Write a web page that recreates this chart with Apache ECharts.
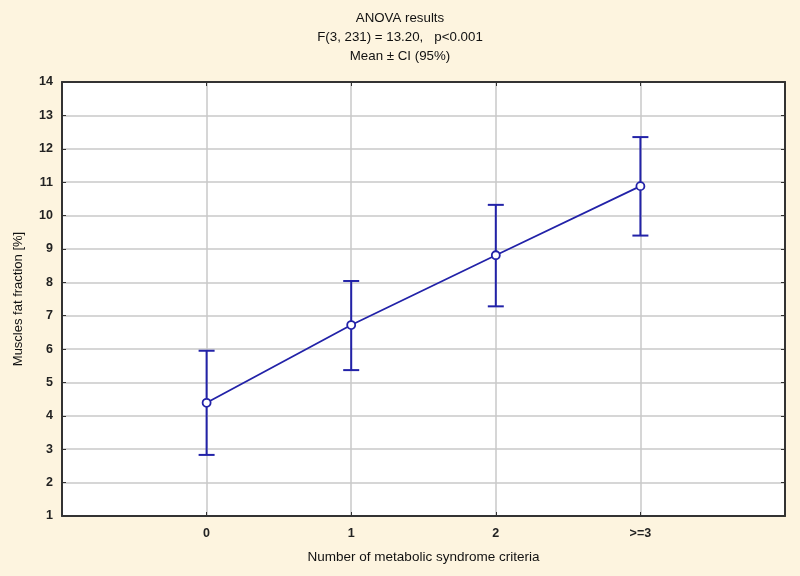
<!DOCTYPE html>
<html><head><meta charset="utf-8">
<script src="https://cdn.jsdelivr.net/npm/echarts@6/dist/echarts.min.js"></script>
<style>html,body{margin:0;padding:0;background:#FDF4DF;}#c{width:800px;height:576px;}</style>
</head><body><div id="c"></div>
<script>
const categories = ['0', '1', '2', '>=3'];
const means = [4.39, 6.72, 8.81, 10.88];
const lowerCI = [2.83, 5.37, 7.28, 9.40];
const upperCI = [5.95, 8.04, 10.32, 12.35];
const yTicks = [1,2,3,4,5,6,7,8,9,10,11,12,13,14];
const titleLines = ['ANOVA results', 'F(3, 231) = 13.20,   p<0.001', 'Mean \u00b1 CI (95%)'];

const FONT = '"Liberation Sans", Arial, sans-serif';
const blue = '#2222A8';
const chart = echarts.init(document.getElementById('c'));
const lineData = means.map((m, i) => [i, m]);
const errData = means.map((m, i) => [i, lowerCI[i], upperCI[i]]);

chart.setOption({
  backgroundColor: '#FDF4DF',
  animation: false,
  title: {
    text: titleLines.join('\n'), left: 'center', top: 4,
    textStyle: { fontFamily: FONT, fontSize: 13.3, fontWeight: 'normal', color: '#111', lineHeight: 19 }
  },
  grid: { left: 62, right: 15, top: 82, bottom: 60, show: true, backgroundColor: '#fff', borderColor: 'transparent' },
  xAxis: [{
    type: 'value', min: -1, max: 4, interval: 1,
    name: 'Number of metabolic syndrome criteria', nameLocation: 'middle', nameGap: 34,
    nameTextStyle: { fontFamily: FONT, fontSize: 13.5, color: '#111' },
    axisLine: { show: true, onZero: false, lineStyle: { color: '#333', width: 2 } },
    axisTick: { show: true, inside: true, length: 4, lineStyle: { color: '#333' } },
    axisLabel: { fontFamily: FONT, fontSize: 12.5, fontWeight: 'bold', color: '#222', margin: 11,
      formatter: v => (v >= 0 && v < categories.length) ? categories[v] : '' },
    splitLine: { show: true, lineStyle: { color: '#c8c8c8', width: 1.5 } }
  }, {
    type: 'value', min: -1, max: 4, interval: 1, position: 'top',
    axisLine: { show: true, onZero: false, lineStyle: { color: '#333', width: 2 } },
    axisTick: { show: true, inside: true, length: 4, lineStyle: { color: '#333' } },
    axisLabel: { show: false }, splitLine: { show: false }
  }],
  yAxis: [{
    type: 'value', min: 1, max: 14, interval: 1,
    name: 'Muscles fat fraction [%]', nameLocation: 'middle', nameGap: 37,
    nameTextStyle: { fontFamily: FONT, fontSize: 13, color: '#111' },
    axisLine: { show: true, onZero: false, lineStyle: { color: '#333', width: 2 } },
    axisTick: { show: true, inside: true, length: 4, lineStyle: { color: '#333' } },
    axisLabel: { fontFamily: FONT, fontSize: 12.5, fontWeight: 'bold', color: '#222', margin: 9,
      formatter: v => yTicks.includes(v) ? String(v) : '' },
    splitLine: { show: true, lineStyle: { color: '#c8c8c8', width: 1.5 } }
  }, {
    type: 'value', min: 1, max: 14, interval: 1, position: 'right',
    axisLine: { show: true, onZero: false, lineStyle: { color: '#333', width: 2 } },
    axisTick: { show: true, inside: true, length: 4, lineStyle: { color: '#333' } },
    axisLabel: { show: false }, splitLine: { show: false }
  }],
  series: [{
    type: 'custom', xAxisIndex: 0, yAxisIndex: 0, data: errData, z: 3,
    renderItem: (params, api) => {
      const x = api.value(0);
      const lo = api.coord([x, api.value(1)]);
      const hi = api.coord([x, api.value(2)]);
      const hw = 8;
      const st = { stroke: blue, lineWidth: 2, fill: null };
      return { type: 'group', children: [
        { type: 'line', shape: { x1: lo[0], y1: lo[1], x2: hi[0], y2: hi[1] }, style: st },
        { type: 'line', shape: { x1: lo[0]-hw, y1: lo[1], x2: lo[0]+hw, y2: lo[1] }, style: st },
        { type: 'line', shape: { x1: hi[0]-hw, y1: hi[1], x2: hi[0]+hw, y2: hi[1] }, style: st }
      ]};
    }
  }, {
    type: 'line', xAxisIndex: 0, yAxisIndex: 0, data: lineData, z: 4,
    symbol: 'circle', symbolSize: 8,
    lineStyle: { color: blue, width: 1.8 },
    itemStyle: { color: '#fff', borderColor: blue, borderWidth: 1.8 }
  }]
});
</script></body></html>
